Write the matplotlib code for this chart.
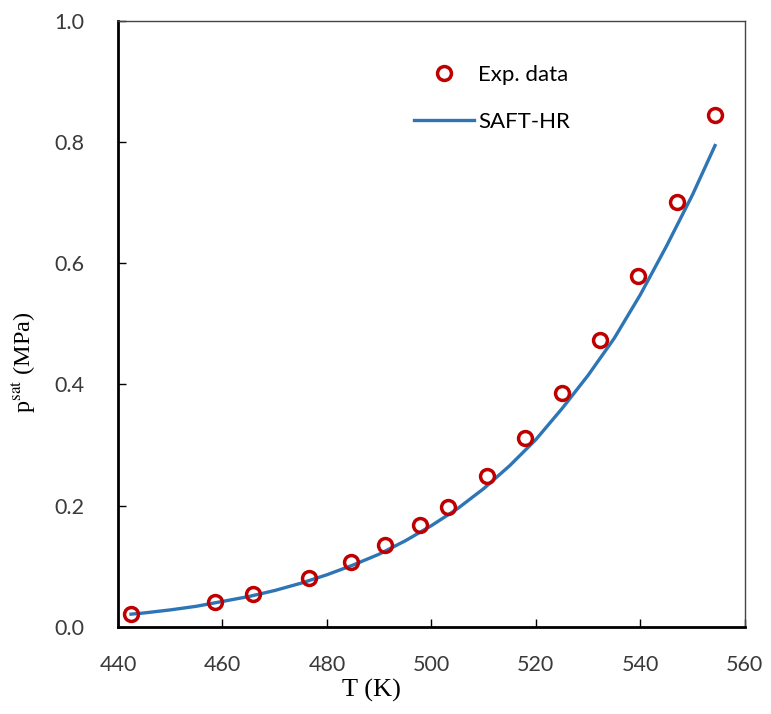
import matplotlib.pyplot as plt
import numpy as np

plt.rcParams['mathtext.fontset'] = 'stix'

# experimental saturation pressure
T_exp = [442.5, 458.6, 465.8, 476.6, 484.6, 491.1, 497.8, 503.2, 510.6,
         517.9, 525.0, 532.2, 539.5, 547.0, 554.3]
p_exp = [0.022, 0.041, 0.054, 0.081, 0.107, 0.135, 0.168, 0.198, 0.249,
         0.312, 0.386, 0.474, 0.579, 0.701, 0.845]

# SAFT-HR curve
T_saft = [442.5, 445, 450, 455, 460, 465, 470, 475, 480, 485, 490, 495, 500,
          505, 510, 515, 520, 525, 530, 535, 540, 545, 550, 554.3]
p_saft = [0.021, 0.023, 0.028, 0.034, 0.042, 0.050, 0.060, 0.072, 0.086,
          0.102, 0.120, 0.142, 0.167, 0.195, 0.228, 0.266, 0.309, 0.360,
          0.415, 0.476, 0.548, 0.628, 0.713, 0.794]

fig = plt.figure(figsize=(7.71, 7.14), dpi=100)
ax = fig.add_axes([0.153, 0.122, 0.813, 0.849])

ax.plot(T_exp, p_exp, 'o', mfc='none', mec='#C00000', mew=2.5, ms=10,
        label='Exp. data', zorder=3)
ax.plot(T_saft, p_saft, '-', color='#2E75B6', lw=2.4, label='SAFT-HR')

ax.set_xlim(440, 560)
ax.set_ylim(0, 1.0)
ax.set_xticks(np.arange(440, 561, 20))
ax.set_yticks(np.arange(0, 1.01, 0.2))
ax.yaxis.set_major_formatter(plt.FormatStrFormatter('%.1f'))

ax.tick_params(direction='in', length=6, width=1, top=False, right=False,
               labelsize=15.5, labelcolor='#3a3a3a')
for lab in ax.get_xticklabels() + ax.get_yticklabels():
    lab.set_family('Lato')
ax.tick_params(axis='x', pad=20)
ax.tick_params(axis='y', pad=24)

for s in ['left', 'bottom']:
    ax.spines[s].set_linewidth(2)
for s in ['top', 'right']:
    ax.spines[s].set_linewidth(1)
    ax.spines[s].set_color('#444444')

ax.set_xlabel('T (K)', family='Liberation Serif', fontsize=19, labelpad=6)
ax.xaxis.set_label_coords(0.404, -0.085)
ax.set_ylabel(r'p$^{\mathrm{sat}}$ (MPa)', family='Liberation Serif',
              fontsize=17.5)
ax.yaxis.set_label_coords(-0.128, 0.437)

leg = ax.legend(loc='upper left', bbox_to_anchor=(0.44, 0.96), frameon=False,
                prop={'family': 'Lato', 'size': 16}, handlelength=2.7,
                handletextpad=0.2, labelspacing=1.2)

fig.savefig('out.png', dpi=100)
